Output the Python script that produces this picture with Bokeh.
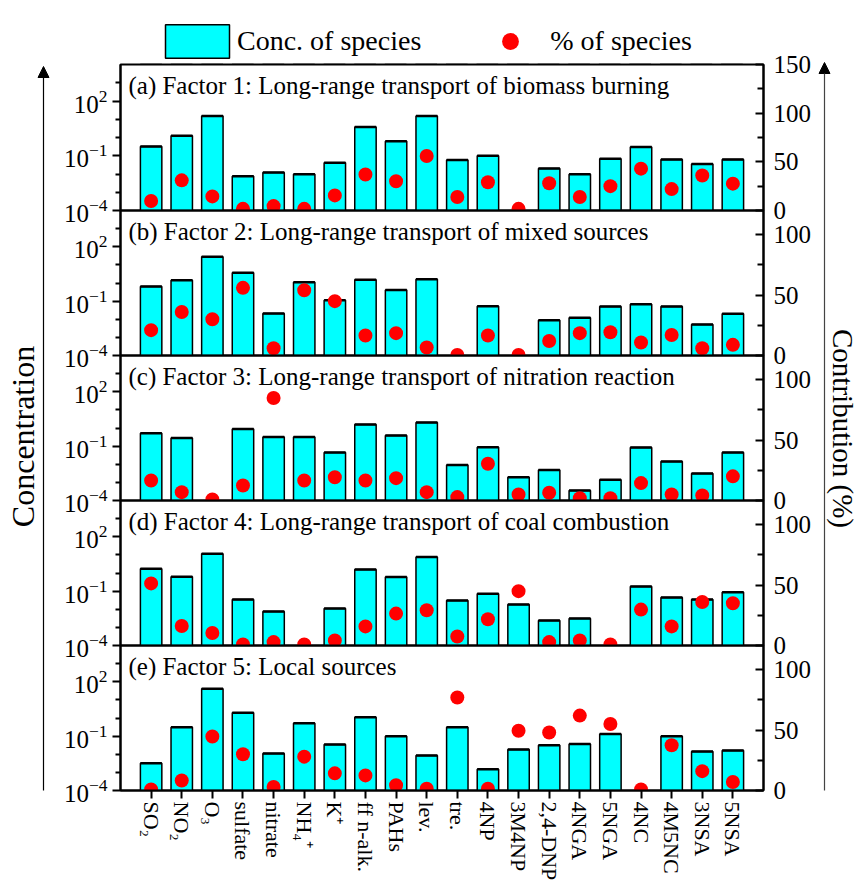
import math
from bokeh.plotting import figure
from bokeh.layouts import column, row
from bokeh.models import (Range1d, LinearAxis, LinearScale, FixedTicker, Label, Arrow, NormalHead,
                          ColumnDataSource, Legend, LegendItem)
from bokeh.embed import file_html
from bokeh.resources import INLINE

FONT = "Liberation Serif"

categories = ["SO\u2082", "NO\u2082", "O\u2083", "sulfate", "nitrate", "NH\u2084\u207a", "K\u207a",
              "ff n-alk.", "PAHs", "lev.", "tre.", "4NP", "3M4NP", "2,4-DNP", "4NGA", "5NGA",
              "4NC", "4M5NC", "3NSA", "5NSA"]

panel_titles = [
    "(a) Factor 1: Long-range transport of biomass burning",
    "(b) Factor 2: Long-range transport of mixed sources",
    "(c) Factor 3: Long-range transport of nitration reaction",
    "(d) Factor 4: Long-range transport of coal combustion",
    "(e) Factor 5: Local sources",
]

# concentration of species (log axis); None = no bar
conc_f1 = [0.32, 1.25, 15, 0.0076, 0.012, 0.0098, 0.042, 3.8, 0.63, 15, 0.059, 0.10, None,
           0.020, 0.0098, 0.069, 0.30, 0.063, 0.035, 0.063]
conc_f2 = [0.64, 1.4, 28, 3.7, 0.021, 1.1, 0.11, 1.5, 0.41, 1.6, None, 0.052, None,
           0.0087, 0.012, 0.050, 0.068, 0.050, 0.0052, 0.020]
conc_f3 = [0.52, 0.28, None, 0.89, 0.32, 0.32, 0.044, 1.55, 0.39, 2.0, 0.0091, 0.087, 0.0019,
           0.0048, 0.00036, 0.0014, 0.083, 0.014, 0.0031, 0.044]
conc_f4 = [1.7, 0.63, 11.7, 0.035, 0.0076, None, 0.011, 1.55, 0.60, 7.6, 0.030, 0.071, 0.018,
           0.0024, 0.0031, None, 0.18, 0.044, 0.035, 0.087]
conc_f5 = [0.0032, 0.31, 41, 1.96, 0.011, 0.52, 0.034, 1.1, 0.098, 0.0085, 0.31, 0.0015, 0.018,
           0.031, 0.037, 0.13, None, 0.098, 0.014, 0.016]

# % of species (right axis)
pct_f1 = [9.7, 31, 14.5, 1.7, 4.5, 1.7, 15.5, 37, 30, 56, 13.8, 29, 1.7, 28, 13.8, 25, 43, 22, 36, 27.6]
pct_f2 = [21, 36, 30, 56, 6, 54, 45, 16.6, 18.5, 6.6, 0.5, 16.6, 0.5, 12, 18.5, 19.3, 10.8, 17, 6, 8.8]
pct_f3 = [16.6, 6.9, 0.8, 12.4, 84.8, 16.6, 19.3, 16.6, 18.5, 6.9, 2.8, 30.4, 5, 6.4, 1.9, 1.9, 14.4, 5, 4.1, 20]
pct_f4 = [51.4, 16.1, 10.3, 0.8, 2.8, 0.8, 4.2, 15.8, 26.4, 29.2, 7.5, 21.7, 45, 2.8, 4.2, 0.8, 29.7, 15.8, 36, 35]
pct_f5 = [0.8, 8.3, 44.7, 30, 3, 28, 14.2, 12.5, 4.4, 1.4, 77, 1.4, 49.4, 48, 62, 55, 0.8, 37.5, 16, 7]

legend_labels = ["Conc. of species", "% of species"]

conc_all = [conc_f1, conc_f2, conc_f3, conc_f4, conc_f5]
pct_all = [pct_f1, pct_f2, pct_f3, pct_f4, pct_f5]
pct_max = [150, 120, 120, 120, 120]
pct_ticks = [[0, 50, 100, 150], [0, 50, 100], [0, 50, 100], [0, 50, 100], [0, 50, 100]]
pct_minor = [[25, 75, 125], [25, 75], [25, 75], [25, 75], [25, 75]]
conc_ticks = [1e-4, 1e-1, 1e2]
conc_minor = [1e-3, 1e-2, 1.0, 10.0, 1e3]

CYAN = "#00FFFF"
RED = "#FF0000"
BAR_W = 0.7
DOT_SIZE = 14


def style_axis(ax):
    ax.axis_line_width = 2
    ax.axis_line_color = "black"
    ax.major_tick_line_width = 2
    ax.minor_tick_line_width = 2
    ax.major_label_text_font = FONT
    ax.major_label_text_font_size = "25px"
    ax.major_label_text_color = "black"


def make_source(i):
    xs = list(range(1, len(categories) + 1))
    top = [float("nan") if v is None else v for v in conc_all[i]]
    return ColumnDataSource(dict(
        x=xs, top=top, pct=pct_all[i],
        x0=[x - BAR_W / 2 for x in xs], x1=[x + BAR_W / 2 for x in xs],
    ))


def make_panel(i, src):
    first = i == 0
    last = i == 4
    xs = list(src.data["x"])
    bt = 18 if first else 14
    bb = 96 if last else 18
    fh = 146 if first else 145
    p = figure(frame_width=643, frame_height=fh,
               x_range=Range1d(0, 21), y_range=Range1d(1e-4, 1e4), y_axis_type="log",
               output_backend="svg", toolbar_location=None,
               min_border_left=59, min_border_right=53,
               min_border_top=bt, min_border_bottom=bb)
    p.background_fill_alpha = 0
    p.border_fill_alpha = 0
    p.outline_line_color = "black"
    p.outline_line_width = 2
    p.xgrid.visible = False
    p.ygrid.visible = False
    p.extra_y_ranges = {"pct": Range1d(0, pct_max[i])}
    p.extra_y_scales = {"pct": LinearScale()}

    p.vbar(x="x", top="top", bottom=1e-4, width=BAR_W, source=src,
           fill_color=CYAN, line_color="black", line_width=1.5)
    p.segment(x0="x0", x1="x1", y0="top", y1="top", source=src,
              line_color="black", line_width=2.5)
    p.scatter(x="x", y="pct", y_range_name="pct", source=src, size=DOT_SIZE,
              fill_color=RED, line_color=None)

    left = p.left[0]
    left.ticker = FixedTicker(ticks=conc_ticks, minor_ticks=conc_minor)
    style_axis(left)
    left.major_tick_out = 8
    left.major_tick_in = 0
    left.minor_tick_out = 5
    left.minor_tick_in = 0
    left.major_label_standoff = 5

    right = LinearAxis(y_range_name="pct",
                       ticker=FixedTicker(ticks=pct_ticks[i], minor_ticks=pct_minor[i]))
    style_axis(right)
    right.major_tick_in = 8
    right.major_tick_out = 0
    right.minor_tick_in = 6
    right.minor_tick_out = 0
    right.major_label_standoff = 10
    p.add_layout(right, "right")

    xa = p.below[0]
    if last:
        xa.ticker = FixedTicker(ticks=xs, minor_ticks=[])
        xa.major_label_overrides = {x: c for x, c in zip(xs, categories)}
        xa.major_label_orientation = "vertical"
        style_axis(xa)
        xa.major_label_text_font_size = "22px"
        xa.major_tick_out = 8
        xa.major_tick_in = 0
        xa.minor_tick_out = 0
        xa.minor_tick_in = 0
        xa.major_label_standoff = 3
    else:
        xa.visible = False

    p.add_layout(Label(x=0.26, y=10 ** 2.85, text=panel_titles[i], text_font=FONT,
                       text_font_size="25px", text_baseline="middle", text_align="left",
                       text_color="black"))

    p.margin = (-18, 0, 0, 0) if first else (-32, 0, 0, 0)
    return p


sources = [make_source(i) for i in range(5)]
panels = [make_panel(i, sources[i]) for i in range(5)]

# legend strip above the first panel; its renderers use panel (a) data placed outside the view
lf = figure(width=755, height=64, x_range=Range1d(0, 21), y_range=Range1d(1000, 1001),
            output_backend="svg", toolbar_location=None,
            x_axis_location=None, y_axis_location=None,
            min_border_left=0, min_border_right=0, min_border_top=0, min_border_bottom=0)
lf.outline_line_color = None
lf.background_fill_alpha = 0
lf.border_fill_alpha = 0
lf.xgrid.visible = False
lf.ygrid.visible = False
r_bar = lf.vbar(x="x", top="pct", bottom=0, width=BAR_W, source=sources[0],
                fill_color=CYAN, line_color="black", line_width=1.5)
r_dot = lf.scatter(x="x", y="pct", source=sources[0], size=DOT_SIZE,
                   fill_color=RED, line_color=None)
legend = Legend(items=[LegendItem(label=legend_labels[0], renderers=[r_bar]),
                       LegendItem(label=legend_labels[1], renderers=[r_dot])],
                location=(37, 2), orientation="horizontal",
                glyph_width=80, glyph_height=42, spacing=49, label_standoff=0,
                padding=0, margin=0, border_line_color=None, background_fill_alpha=0,
                label_text_font=FONT, label_text_font_size="28px",
                label_text_color="black", label_height=34)
lf.add_layout(legend)

center = column(lf, *panels)

TOTAL_H = 886


def side_fig(x0, x1):
    f = figure(width=x1 - x0, height=TOTAL_H, x_range=Range1d(x0, x1),
               y_range=Range1d(TOTAL_H, 0),
               output_backend="svg", toolbar_location=None,
               x_axis_location=None, y_axis_location=None,
               min_border_left=0, min_border_right=0, min_border_top=0, min_border_bottom=0)
    f.outline_line_color = None
    f.background_fill_alpha = 0
    f.border_fill_alpha = 0
    f.xgrid.visible = False
    f.ygrid.visible = False
    return f


lfig = side_fig(0, 60)
lfig.add_layout(Arrow(end=NormalHead(size=11, fill_color="black", line_color="black"),
                      x_start=43, y_start=790, x_end=43, y_end=66,
                      line_color="black", line_width=1.2))
lfig.add_layout(Label(x=22, y=436, text="Concentration", angle=math.pi / 2,
                      text_align="center", text_baseline="middle", text_font=FONT,
                      text_font_size="32px", text_color="black"))

rfig = side_fig(815, 859)
rfig.add_layout(Arrow(end=NormalHead(size=11, fill_color="black", line_color="black"),
                      x_start=823, y_start=790, x_end=823, y_end=62,
                      line_color="#444444", line_width=1.2))
rfig.add_layout(Label(x=841, y=428, text="Contribution (%)", angle=-math.pi / 2,
                      text_align="center", text_baseline="middle", text_font=FONT,
                      text_font_size="29px", text_color="black"))

layout = row(lfig, center, rfig)

open("out.html", "w").write(file_html(layout, INLINE))
